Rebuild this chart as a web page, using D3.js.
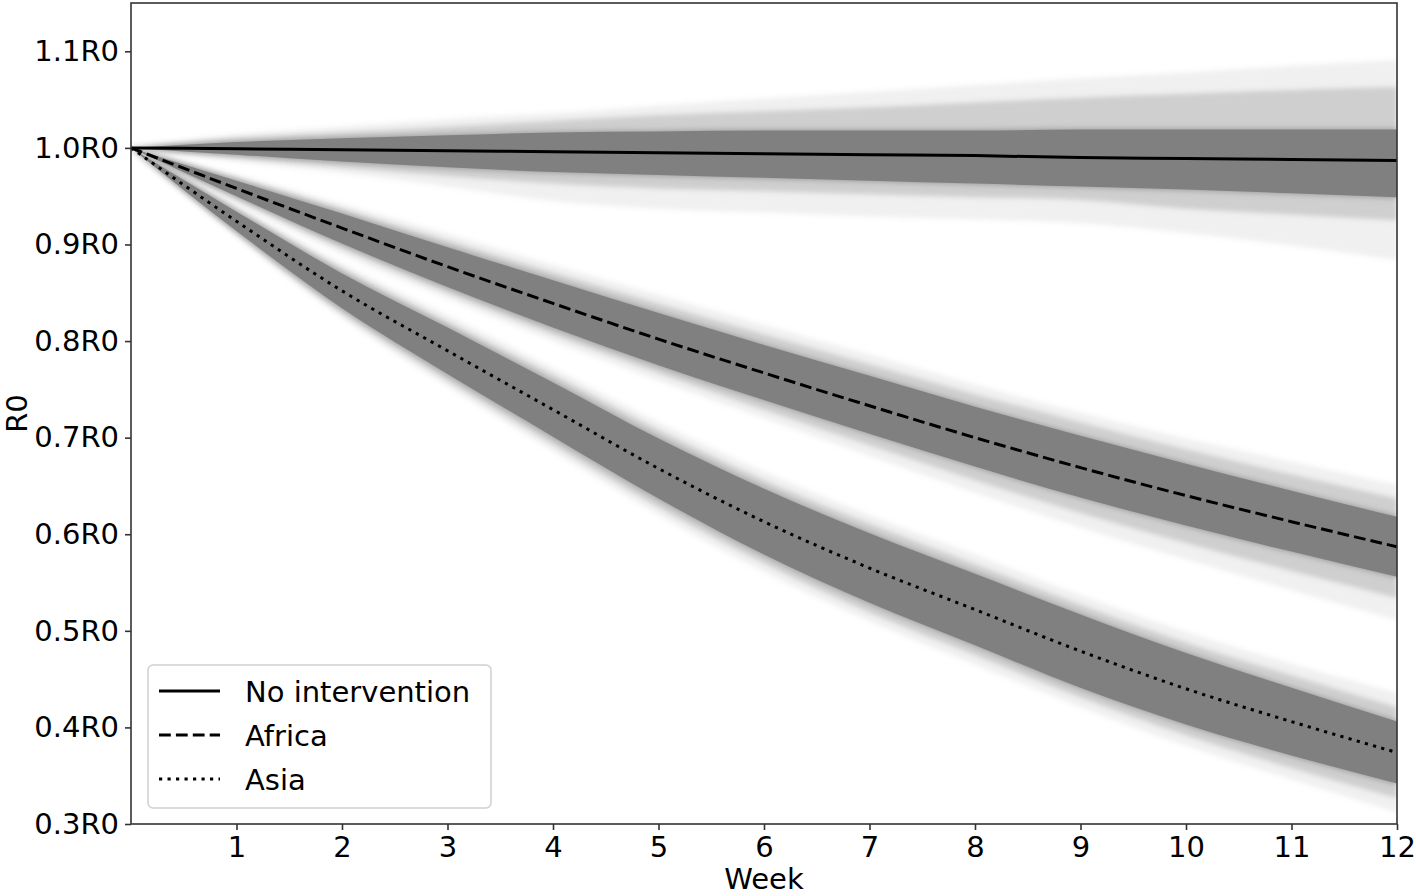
<!DOCTYPE html>
<html>
<head>
<meta charset="utf-8">
<script src="https://cdn.jsdelivr.net/npm/d3@7"></script>
<style>
  html, body { margin: 0; padding: 0; background: #fff; }
  svg text { font-family: "DejaVu Sans", sans-serif; fill: #000; }
</style>
</head>
<body>
<svg id="chart" width="1416" height="896"></svg>
<script>
const WEEKS = [0, 1, 2, 3, 4, 5, 6, 7, 8, 9, 10, 11, 12];
const X_TICKS = [1, 2, 3, 4, 5, 6, 7, 8, 9, 10, 11, 12];
const Y_TICKS = [0.3, 0.4, 0.5, 0.6, 0.7, 0.8, 0.9, 1.0, 1.1];

// no intervention: mean line, dense core of the simulations, softer fringe, faint outer spread
const NONE_MEAN     = [1.0, 0.999, 0.998, 0.997, 0.996, 0.995, 0.994, 0.993, 0.992, 0.990, 0.989, 0.988, 0.987];
const NONE_CORE_HI  = [1.0, 1.006, 1.010, 1.013, 1.016, 1.017, 1.018, 1.018, 1.018, 1.019, 1.019, 1.019, 1.019];
const NONE_CORE_LO  = [1.0, 0.993, 0.986, 0.980, 0.975, 0.972, 0.969, 0.966, 0.963, 0.960, 0.957, 0.953, 0.949];
const NONE_MID_HI   = [1.0, 1.010, 1.016, 1.022, 1.028, 1.034, 1.038, 1.042, 1.047, 1.052, 1.056, 1.060, 1.063];
const NONE_MID_LO   = [1.0, 0.990, 0.980, 0.971, 0.963, 0.958, 0.955, 0.952, 0.949, 0.946, 0.937, 0.931, 0.925];
const NONE_OUTER_HI = [1.0, 1.014, 1.022, 1.030, 1.036, 1.044, 1.051, 1.058, 1.065, 1.072, 1.078, 1.085, 1.091];
const NONE_OUTER_LO = [1.0, 0.986, 0.974, 0.960, 0.945, 0.937, 0.933, 0.929, 0.926, 0.922, 0.912, 0.899, 0.884];

// Africa
const AFRICA_MEAN     = [1.0, 0.958, 0.917, 0.877, 0.839, 0.802, 0.767, 0.733, 0.700, 0.669, 0.640, 0.613, 0.587];
const AFRICA_CORE_HI  = [1.0, 0.966, 0.932, 0.897, 0.863, 0.829, 0.796, 0.764, 0.732, 0.702, 0.673, 0.645, 0.618];
const AFRICA_CORE_LO  = [1.0, 0.950, 0.901, 0.856, 0.814, 0.775, 0.739, 0.704, 0.670, 0.638, 0.609, 0.582, 0.556];
const AFRICA_MID_HI   = [1.0, 0.969, 0.937, 0.904, 0.871, 0.839, 0.807, 0.776, 0.745, 0.716, 0.688, 0.662, 0.637];
const AFRICA_MID_LO   = [1.0, 0.947, 0.896, 0.850, 0.807, 0.767, 0.729, 0.692, 0.656, 0.622, 0.591, 0.562, 0.534];
const AFRICA_OUTER_HI = [1.0, 0.972, 0.942, 0.911, 0.879, 0.848, 0.817, 0.786, 0.755, 0.726, 0.699, 0.675, 0.651];
const AFRICA_OUTER_LO = [1.0, 0.943, 0.890, 0.844, 0.800, 0.759, 0.720, 0.681, 0.643, 0.607, 0.574, 0.542, 0.511];

// Asia
const ASIA_MEAN     = [1.0, 0.924, 0.852, 0.790, 0.729, 0.668, 0.613, 0.565, 0.522, 0.479, 0.440, 0.406, 0.374];
const ASIA_CORE_HI  = [1.0, 0.934, 0.870, 0.814, 0.757, 0.699, 0.647, 0.601, 0.559, 0.517, 0.477, 0.441, 0.406];
const ASIA_CORE_LO  = [1.0, 0.914, 0.834, 0.766, 0.701, 0.637, 0.579, 0.529, 0.485, 0.441, 0.403, 0.371, 0.342];
const ASIA_MID_HI   = [1.0, 0.937, 0.875, 0.820, 0.765, 0.708, 0.656, 0.611, 0.569, 0.527, 0.488, 0.454, 0.421];
const ASIA_MID_LO   = [1.0, 0.911, 0.829, 0.759, 0.693, 0.628, 0.570, 0.519, 0.475, 0.431, 0.392, 0.358, 0.327];
const ASIA_OUTER_HI = [1.0, 0.940, 0.880, 0.827, 0.772, 0.716, 0.665, 0.620, 0.579, 0.537, 0.499, 0.466, 0.436];
const ASIA_OUTER_LO = [1.0, 0.908, 0.824, 0.753, 0.686, 0.620, 0.561, 0.510, 0.465, 0.421, 0.381, 0.346, 0.312];

const SERIES = [
  { label: 'No intervention', mean: NONE_MEAN, core: [NONE_CORE_HI, NONE_CORE_LO], mid: [NONE_MID_HI, NONE_MID_LO], outer: [NONE_OUTER_HI, NONE_OUTER_LO], dash: null },
  { label: 'Africa', mean: AFRICA_MEAN, core: [AFRICA_CORE_HI, AFRICA_CORE_LO], mid: [AFRICA_MID_HI, AFRICA_MID_LO], outer: [AFRICA_OUTER_HI, AFRICA_OUTER_LO], dash: '11.8,5.1' },
  { label: 'Asia', mean: ASIA_MEAN, core: [ASIA_CORE_HI, ASIA_CORE_LO], mid: [ASIA_MID_HI, ASIA_MID_LO], outer: [ASIA_OUTER_HI, ASIA_OUTER_LO], dash: '3.2,5.3' }
];

const width = 1416, height = 896;
const margin = { top: 3, right: 19, bottom: 72, left: 131 };
const FONT = 29;

const svg = d3.select('#chart');

const x = d3.scaleLinear().domain([0, 12]).range([margin.left, width - margin.right]);
const y = d3.scaleLinear().domain([0.3, 1.15]).range([height - margin.bottom, margin.top]);

const defs = svg.append('defs');
defs.append('clipPath').attr('id', 'plot-clip')
  .append('rect')
  .attr('x', x(0)).attr('y', y(1.15))
  .attr('width', x(12) - x(0)).attr('height', y(0.3) - y(1.15));
defs.append('filter').attr('id', 'soft').attr('x', '-5%').attr('y', '-20%').attr('width', '110%').attr('height', '140%')
  .append('feGaussianBlur').attr('stdDeviation', 3);
defs.append('filter').attr('id', 'softer').attr('x', '-5%').attr('y', '-20%').attr('width', '110%').attr('height', '140%')
  .append('feGaussianBlur').attr('stdDeviation', 2.5);

const plot = svg.append('g').attr('clip-path', 'url(#plot-clip)');

function band([hi, lo]) {
  return d3.area()
    .x((d, i) => x(WEEKS[i]))
    .y0((d, i) => y(lo[i]))
    .y1((d, i) => y(hi[i]))
    .curve(d3.curveMonotoneX)(WEEKS);
}

// simulation spread
SERIES.forEach(s => {
  plot.append('path')
    .attr('d', band(s.outer))
    .attr('fill', '#808080')
    .attr('fill-opacity', 0.12)
    .attr('filter', 'url(#softer)');
  plot.append('path')
    .attr('d', band(s.mid))
    .attr('fill', '#808080')
    .attr('fill-opacity', 0.3)
    .attr('filter', 'url(#softer)');
  plot.append('path')
    .attr('d', band(s.core))
    .attr('fill', '#808080')
    .attr('fill-opacity', 0.8)
    .attr('filter', 'url(#soft)');
  plot.append('path')
    .attr('d', band(s.core))
    .attr('fill', '#808080');
});

// mean lines
const line = vals => d3.line()
  .x((d, i) => x(WEEKS[i]))
  .y((d, i) => y(vals[i]))
  .curve(d3.curveMonotoneX)(WEEKS);

SERIES.forEach(s => {
  plot.append('path')
    .attr('d', line(s.mean))
    .attr('fill', 'none')
    .attr('stroke', '#000')
    .attr('stroke-width', 3)
    .attr('stroke-dasharray', s.dash);
});

// axes
const yAxis = svg.append('g')
  .attr('transform', `translate(${x(0)},0)`)
  .call(d3.axisLeft(y).tickValues(Y_TICKS).tickFormat(d => d.toFixed(1) + 'R0').tickSize(6).tickPadding(6));
const xAxis = svg.append('g')
  .attr('transform', `translate(0,${y(0.3)})`)
  .call(d3.axisBottom(x).tickValues(X_TICKS).tickFormat(d3.format('d')).tickSize(6).tickPadding(6.5));

[xAxis, yAxis].forEach(a => {
  a.select('.domain').remove();
  a.selectAll('.tick line').attr('stroke', '#333').attr('stroke-width', 1.6);
  a.selectAll('.tick text').attr('font-size', FONT).attr('font-family', '"DejaVu Sans", sans-serif').attr('fill', '#000');
});

// frame
svg.append('rect')
  .attr('x', x(0)).attr('y', y(1.15))
  .attr('width', x(12) - x(0)).attr('height', y(0.3) - y(1.15))
  .attr('fill', 'none').attr('stroke', '#333').attr('stroke-width', 1.6);

svg.append('text')
  .attr('x', (x(0) + x(12)) / 2).attr('y', 889)
  .attr('text-anchor', 'middle').attr('font-size', FONT)
  .text('Week');
svg.append('text')
  .attr('transform', `translate(27,${(y(0.3) + y(1.15)) / 2}) rotate(-90)`)
  .attr('text-anchor', 'middle').attr('font-size', FONT)
  .text('R0');

// legend
const legend = svg.append('g');
legend.append('rect')
  .attr('x', 148).attr('y', 665).attr('width', 343).attr('height', 143).attr('rx', 5)
  .attr('fill', '#fff').attr('fill-opacity', 0.8)
  .attr('stroke', '#d0d0d0').attr('stroke-width', 1.5);
SERIES.forEach((s, i) => {
  const ry = 691 + i * 44;
  legend.append('line')
    .attr('x1', 159).attr('x2', 220).attr('y1', ry).attr('y2', ry)
    .attr('stroke', '#000').attr('stroke-width', 3)
    .attr('stroke-dasharray', s.dash);
  legend.append('text')
    .attr('x', 245).attr('y', ry + 11)
    .attr('font-size', FONT)
    .text(s.label);
});
</script>
</body>
</html>
